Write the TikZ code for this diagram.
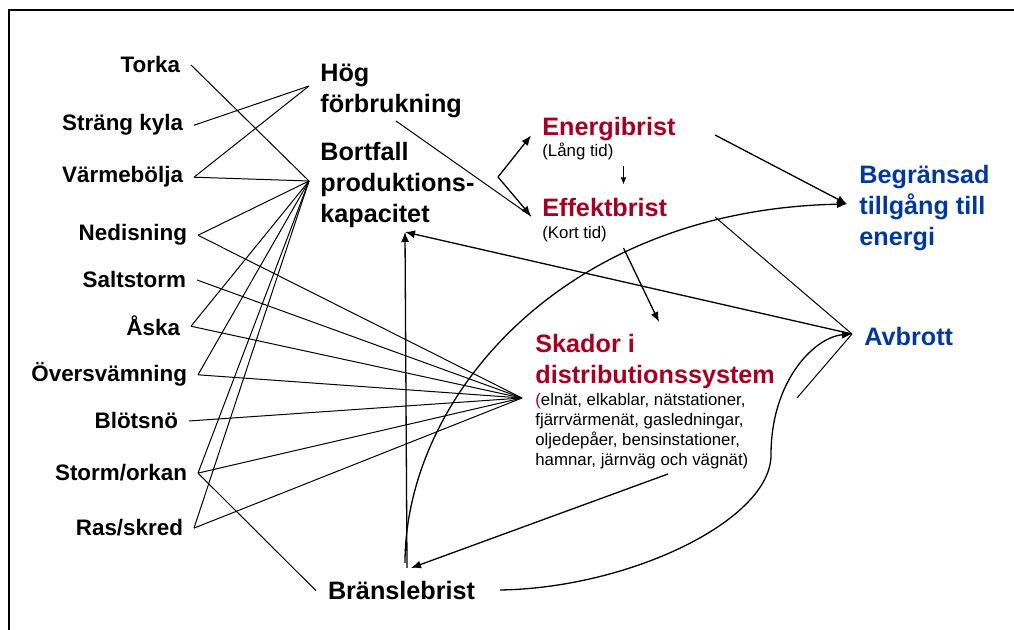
\documentclass[tikz,border=0pt]{standalone}
\usepackage{fontspec}
\setmainfont{Liberation Sans}
\usetikzlibrary{arrows, arrows.meta, positioning, calc}
\definecolor{skadaRed}{RGB}{165,0,33}
\definecolor{utfallBlue}{RGB}{0,56,155}

\begin{document}
\begin{tikzpicture}[x=0.5pt, y=-0.5pt, >={Latex[length=5pt,width=4pt]}]
  % Define styles
  \tikzstyle{hazard} = [inner sep=0pt, outer xsep=5.5pt, anchor=base east, font=\fontsize{11.2}{13.5}\selectfont\bfseries]
  \tikzstyle{effect} = [inner sep=0pt, anchor=north west, align=left, font=\fontsize{12.6}{15.5}\selectfont\bfseries]
  \tikzstyle{shortage} = [effect, text=skadaRed]
  \tikzstyle{outcome} = [effect, text=utfallBlue]
  \tikzstyle{note} = [inner sep=0pt, anchor=base west, align=left, font=\fontsize{8.4}{10}\selectfont]
  \tikzstyle{link} = [draw, line width=0.5pt]
  \tikzstyle{arrow} = [draw, line width=0.65pt, ->]

  % Frame
  \useasboundingbox (0,0) rectangle (1014,630);
  \draw [line width=0.6pt] (1014,10) -- (9,10) -- (9,630);

  % Place nodes
  \node [hazard] (torka) at (191,73) {Torka};
  \node [hazard] (strangKyla) at (194,131) {Sträng kyla};
  \node [hazard] (varmebolja) at (194,183) {Värmebölja};
  \node [hazard] (nedisning) at (198,241) {Nedisning};
  \node [hazard] (saltstorm) at (197,288) {Saltstorm};
  \node [hazard] (aska) at (191,336) {Åska};
  \node [hazard] (oversvamning) at (198,382) {Översvämning};
  \node [hazard] (blotsno) at (189,429) {Blötsnö};
  \node [hazard] (stormOrkan) at (198,481) {Storm/orkan};
  \node [hazard] (rasSkred) at (194,536) {Ras/skred};

  \node [effect] (hogForbrukning) at (320,64) {Hög\\förbrukning};
  \node [effect] (bortfall) at (320,142) {Bortfall\\produktions-\\kapacitet};
  \node [effect, outer xsep=6pt] (branslebrist) at (316,581) {Bränslebrist};

  \node [shortage] (energibrist) at (542,117) {Energibrist};
  \node [note] (langTid) at (542,156.5) {(Lång tid)};
  \node [shortage] (effektbrist) at (542,198) {Effektbrist};
  \node [note] (kortTid) at (542,238.5) {(Kort tid)};
  \node [shortage] (skador) at (535,334) {Skador i\\distributionssystem};
  \node [note, anchor=north west] (skadorNote) at (535,393) {\textcolor{skadaRed}{(}elnät, elkablar, nätstationer,\\fjärrvärmenät, gasledningar,\\oljedepåer, bensinstationer,\\hamnar, järnväg och vägnät)};

  \node [outcome] (begransad) at (859,165) {Begränsad\\tillgång till\\energi};
  \node [outcome, anchor=base west] (avbrott) at (864,345.5) {Avbrott};

  % Meeting points
  \coordinate (hogHub) at (309,86);
  \coordinate (bortHub) at (309,181);
  \coordinate (skadHub) at (522,398);
  \coordinate (forkHub) at (498,177);
  \coordinate (avbHub) at (852,334);
  \coordinate (hogOut) at (396,121);
  \coordinate (energiIn) at (531,135.5);
  \coordinate (effektIn) at (531,216);
  \coordinate (energiOut) at (715,135);
  \coordinate (energiDown) at (623.5,166.5);
  \coordinate (effektUp) at (623.5,184.5);
  \coordinate (effektOut) at (623.5,248);
  \coordinate (skadorIn) at (659,322);
  \coordinate (skadorOut) at (668,474);
  \coordinate (begIn) at (847,204);
  \coordinate (begCross) at (715,217);
  \coordinate (bortIn) at (405,232);
  \coordinate (branUp) at (407,568);
  \coordinate (branIn) at (411,568);
  \coordinate (branCurve) at (405,563);
  \coordinate (branOut) at (500,590);
  \coordinate (avbBend) at (771,455);
  \coordinate (avbTail) at (797,398);

  % Draw edges
  \path [link] (strangKyla.east) -- (hogHub);
  \path [link] (varmebolja.east) -- (hogHub);

  \path [link] (torka.east) -- (bortHub);
  \path [link] (varmebolja.east) -- (bortHub);
  \path [link] (nedisning.east) -- (bortHub);
  \path [link] (aska.east) -- (bortHub);
  \path [link] (oversvamning.east) -- (bortHub);
  \path [link] (stormOrkan.east) -- (bortHub);
  \path [link] (rasSkred.east) -- (bortHub);

  \path [link] (nedisning.east) -- (skadHub);
  \path [link] (saltstorm.east) -- (skadHub);
  \path [link] (aska.east) -- (skadHub);
  \path [link] (oversvamning.east) -- (skadHub);
  \path [link] (blotsno.east) -- (skadHub);
  \path [link] (stormOrkan.east) -- (skadHub);
  \path [link] (rasSkred.east) -- (skadHub);
  \path [link] (stormOrkan.east) -- (branslebrist.west);

  \path [link] (hogOut) -- (effektIn);
  \path [arrow] (forkHub) -- (energiIn);
  \path [arrow] (forkHub) -- (effektIn);
  \path [draw, line width=0.6pt, -{Latex[length=3.5pt,width=3pt]}] (energiDown) -- (effektUp);
  \path [arrow] (energiOut) -- (begIn);
  \path [arrow] (effektOut) -- (skadorIn);

  \path [arrow] (avbHub) -- (bortIn);
  \path [arrow] (branUp) -- (bortIn);
  \path [arrow] (skadorOut) -- (branIn);
  \path [arrow] (branCurve) .. controls (405,400) and (560,210) .. (begIn);
  \path [arrow] (branOut) .. controls (630,588) and (771,520) .. (avbBend) .. controls (771,380) and (815,337) .. (avbHub);
  \path [link] (begCross) -- (avbHub);
  \path [link] (avbTail) -- (avbHub);
\end{tikzpicture}
\end{document}
